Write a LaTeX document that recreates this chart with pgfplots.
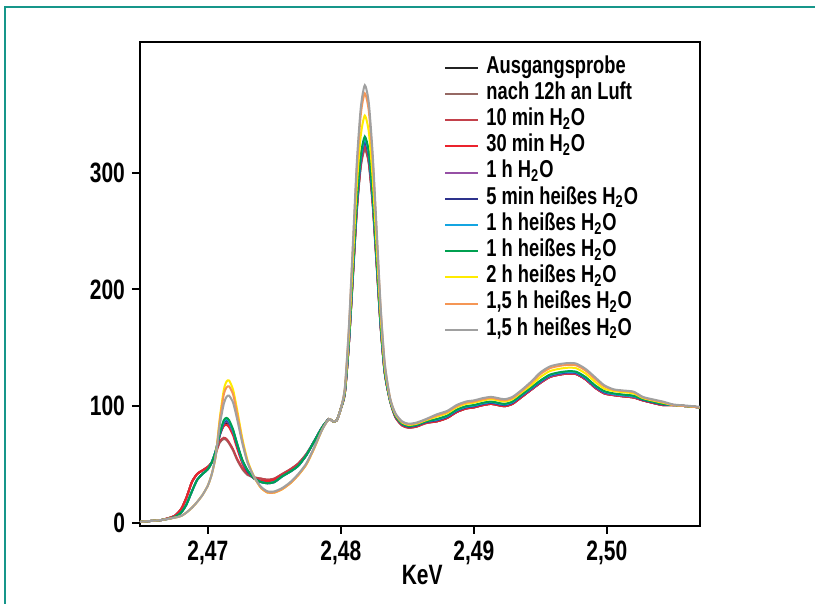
\documentclass[border=0pt]{standalone}
\usepackage{fontspec}
\setmainfont{Liberation Sans}[FakeStretch=0.75]
\usepackage{pgfplots}
\usepackage{pgfplotstable}
\pgfplotsset{compat=1.18}

\definecolor{cK}{RGB}{35,35,35}
\definecolor{cBr}{RGB}{150,105,100}
\definecolor{cDr}{RGB}{195,65,75}
\definecolor{cR}{RGB}{235,35,45}
\definecolor{cPu}{RGB}{150,80,165}
\definecolor{cNv}{RGB}{45,50,140}
\definecolor{cCy}{RGB}{20,165,225}
\definecolor{cGr}{RGB}{0,160,80}
\definecolor{cYe}{RGB}{255,235,0}
\definecolor{cOr}{RGB}{245,150,85}
\definecolor{cGy}{RGB}{160,160,160}
\definecolor{frame}{RGB}{22,150,138}

% x   Ausgangsprobe, 12h Luft, 10min, 30min, 1h, 5min heiss, 1h heiss, 1h heiss, 2h heiss, 1.5h, 1.5h
\pgfplotstableread{
x      k     br    dr    r     pu    nv    cy    gr    ye    or    gy
2.4649 1     1     1     1     1     1     1     1     1     1     1
2.4655 1.5   1.5   1.5   1.5   1.5   1.5   1.5   1.5   1.5   1.5   1.5
2.4660 2     2     2     2     2     2     2     2     2     2     2
2.4665 2.5   2.5   2.5   2.5   2.5   2.5   2.5   2.5   2.5   2.5   2.5
2.4670 4     4     4     4     3.5   3.5   3.5   3.5   3.5   3.5   3.5
2.4675 6     6     6     6     5     5     5     5     4.5   4.5   4.5
2.4680 12    12    12    12    9     9     9     9     6     6     6
2.4684 22    22    22    22    16    16    16    16    9     9     9
2.4688 35    35    35    35    27    27    27    27    13    13    13
2.4692 42    42    42    42    37    37    37    37    18    18    18
2.4696 45    45    45    45    42    42    42    42    24    24    24
2.4700 48    48    48    48    46    46    46    46    32    32    32
2.4703 52    52    52    52    52    52    52    52    42    42    42
2.4706 60    60    60    60    62    62    62    62    58    58    58
2.4709 75    69    70    76    76    76    77    77    90    88    84
2.4712 84    72    73    83    85    86    87    88    114   110   102
2.4714 86    71    72    84    87    88    89    90    121   116   108
2.4716 84    68    69    82    85    86    87    88    122   117   109
2.4719 77    62    63    75    78    79    79    80    114   110   103
2.4722 66    54    55    64    67    67    68    68    97    94    89
2.4726 52    46    47    51    53    53    53    54    72    70    68
2.4730 43    41    42    43    44    44    45    45    53    52    51
2.4735 38    39    39    38    38    38    38    38    39    39    39
2.4740 36    38    38    36    35    35    35    35    30    30    31
2.4745 36    37    37    36    34    34    34    34    26    26    27
2.4750 37    38    38    37    35    35    35    35    26    26    27
2.4756 41    42    42    41    40    40    40    40    29    29    30
2.4762 45    46    46    45    44    44    44    44    34    34    35
2.4768 50    51    51    50    49    49    49    49    41    41    42
2.4774 58    59    59    58    58    58    58    58    50    50    51
2.4780 70    70    70    70    70    70    70    70    64    64    65
2.4786 82    82    82    82    82    82    82    82    80    80    80
2.4791 89    89    89    89    89    89    89    89    89    89    89
2.4794 87    87    87    87    87    87    87    87    87    87    87
2.4797 88    88    88    88    88    88    88    88    88    88    88
2.4800 98    98    98    98    98    98    98    98    98    98    98
2.4803 111   111   111   112   112   112   112   112   114   115   116
2.4806 153   152   153   153   154   154   154   155   160   165   167
2.4809 211   209   210   212   212   213   214   215   224   234   238
2.4812 269   267   268   270   271   272   274   275   289   303   309
2.4815 308   305   307   309   310   311   313   315   332   350   356
2.4818 323   320   322   325   326   327   329   331   349   368   375
2.4821 310   308   309   312   313   314   316   318   335   353   360
2.4824 274   271   273   275   276   277   278   280   294   309   315
2.4827 221   219   220   222   222   223   224   225   235   246   250
2.4830 167   166   167   168   168   169   169   170   176   182   184
2.4833 129   128   129   129   129   129   130   130   133   136   137
2.4837 105   104   105   105   105   105   105   105   106   107   107
2.4841 91    90.5  90.5  91    91.5  91.5  92    92    93    93.5  94
2.4846 84    83.5  83.5  84    84.5  84.5  85    85    86    86.5  87
2.4851 82    81.5  81.5  82    82.5  82.5  83    83    84    84.5  85
2.4857 83    82.5  82.5  83    83.5  83.5  84    84    85    85.5  86
2.4864 86    85.5  85.5  86    86.5  86.5  87    87    88    88.5  89
2.4872 87    87    87    87    88    88    88.5  89    91    92    93
2.4880 90    90    90    90    91    91    91.5  92    94    95    96
2.4887 95    95    95    95    96    96    96.5  97    99    100   101
2.4894 98    98    98    98    99    99    99.5  100   102   103   104
2.4900 99    99    99    99    100   100   100.5 101   103   104   105
2.4907 101   101   101   101   102   102   102.5 103   105   106   107
2.4913 102   102   102   102   103   103   103.5 104   106   107   108
2.4918 101   101   101   101   102   102   102.5 103   105   106   107
2.4923 100   100   100   100   101   101   101.5 102   104   105   106
2.4929 102   102   102   102   103   103   103.5 104   106   107   108
2.4936 108   108   108   108   109   109   109.5 110   112   113   114
2.4943 114   114   114   114   114.5 115   115.5 116   118   120   121
2.4950 120   120   120   120   120.5 121   121.5 122   125   127.5 129
2.4957 125   125   125   125   125.5 126   126.5 127   130   132.5 134
2.4964 127   127   127   127   127.5 128   128.5 129   132   134.5 136
2.4971 128   128   128   128   128.5 129   129.5 130   133   135.5 137
2.4977 127.5 127.5 127.5 127.5 128   128.5 129   129.5 132.5 135   136.5
2.4984 123   123   123   123   123.5 124   124.5 125   128   130.5 132
2.4991 116   116   116   116   116.5 117   117.5 118   121   123.5 125
2.4998 111   111   111   111   111.5 112   112.5 113   115   117   118
2.5005 109.5 109.5 109.5 109.5 110   110.5 110.5 111   113   114   114.5
2.5012 108.5 108.5 108.5 108.5 109   109.5 109.5 110   112   113   113.5
2.5020 107.5 107.5 107.5 107.5 108   108.5 108.5 109   111   112   112.5
2.5027 105   105   105   105   105.5 105.5 106   106   107   107.5 108
2.5034 103   103   103   103   103.5 103.5 104   104   105   105.5 106
2.5042 101   101   101   101   101.5 101.5 102   102   103   103.5 104
2.5050 101   101   101   101   101   101   101   101   101   101   101.5
2.5060 100   100   100   100   100   100   100   100   100   100   100.5
2.5070 99    99    99    99    99    99    99    99    99    99    99.5
}\spectra

\begin{document}
\begin{tikzpicture}
\useasboundingbox (-70pt,-39pt) rectangle (337.5pt,263pt);
\draw[frame, line width=1.2pt] (-67.5pt,-45pt) -- (-67.5pt,259.5pt) -- (345pt,259.5pt);
\begin{axis}[
  scale only axis,
  width=280pt, height=242pt,
  xmin=2.4649, xmax=2.5070,
  ymin=-2.6, ymax=412,
  axis line style={line width=1pt},
  xtick={2.47,2.48,2.49,2.50},
  ytick={0,100,200,300},
  scaled x ticks=false,
  tick align=outside,
  tick pos=left,
  major tick length=4pt,
  tick style={line width=1pt, black},
  /pgf/number format/assume math mode=true,
  xticklabel style={/pgf/number format/.cd, fixed, fixed zerofill, precision=2, use comma},
  ticklabel style={font=\fontsize{14}{16}\selectfont\bfseries},
  xlabel={KeV},
  xlabel style={font=\fontsize{14}{16}\selectfont\bfseries, at={(axis description cs:0.504,0)}, anchor=center, yshift=-24.5pt},
  legend cell align=left,
  legend style={at={(0.543,0.9744)}, anchor=north west, draw=none, fill=none, inner sep=0pt,
    font=\fontsize{12.2}{13}\selectfont\bfseries,
    nodes={inner sep=0pt, text height=9.2pt, text depth=3.9pt},
    column sep=3.5pt},
  legend image code/.code={\draw[#1] (0pt,0pt) -- (16.5pt,0pt);},
  every axis plot/.append style={line width=1pt, smooth, tension=0.4},
]
\addplot[cK] table[x=x,y=k]{\spectra};
\addlegendentry{Ausgangsprobe}
\addplot[cBr] table[x=x,y=br]{\spectra};
\addlegendentry{nach 12h an Luft}
\addplot[cDr] table[x=x,y=dr]{\spectra};
\addlegendentry{10 min H\textsubscript{2}O}
\addplot[cR] table[x=x,y=r]{\spectra};
\addlegendentry{30 min H\textsubscript{2}O}
\addplot[cPu] table[x=x,y=pu]{\spectra};
\addlegendentry{1 h H\textsubscript{2}O}
\addplot[cNv] table[x=x,y=nv]{\spectra};
\addlegendentry{5 min heißes H\textsubscript{2}O}
\addplot[cCy] table[x=x,y=cy]{\spectra};
\addlegendentry{1 h heißes H\textsubscript{2}O}
\addplot[cGr] table[x=x,y=gr]{\spectra};
\addlegendentry{1 h heißes H\textsubscript{2}O}
\addplot[cYe] table[x=x,y=ye]{\spectra};
\addlegendentry{2 h heißes H\textsubscript{2}O}
\addplot[cOr] table[x=x,y=or]{\spectra};
\addlegendentry{1,5 h heißes H\textsubscript{2}O}
\addplot[cGy] table[x=x,y=gy]{\spectra};
\addlegendentry{1,5 h heißes H\textsubscript{2}O}
\end{axis}
\end{tikzpicture}
\end{document}
